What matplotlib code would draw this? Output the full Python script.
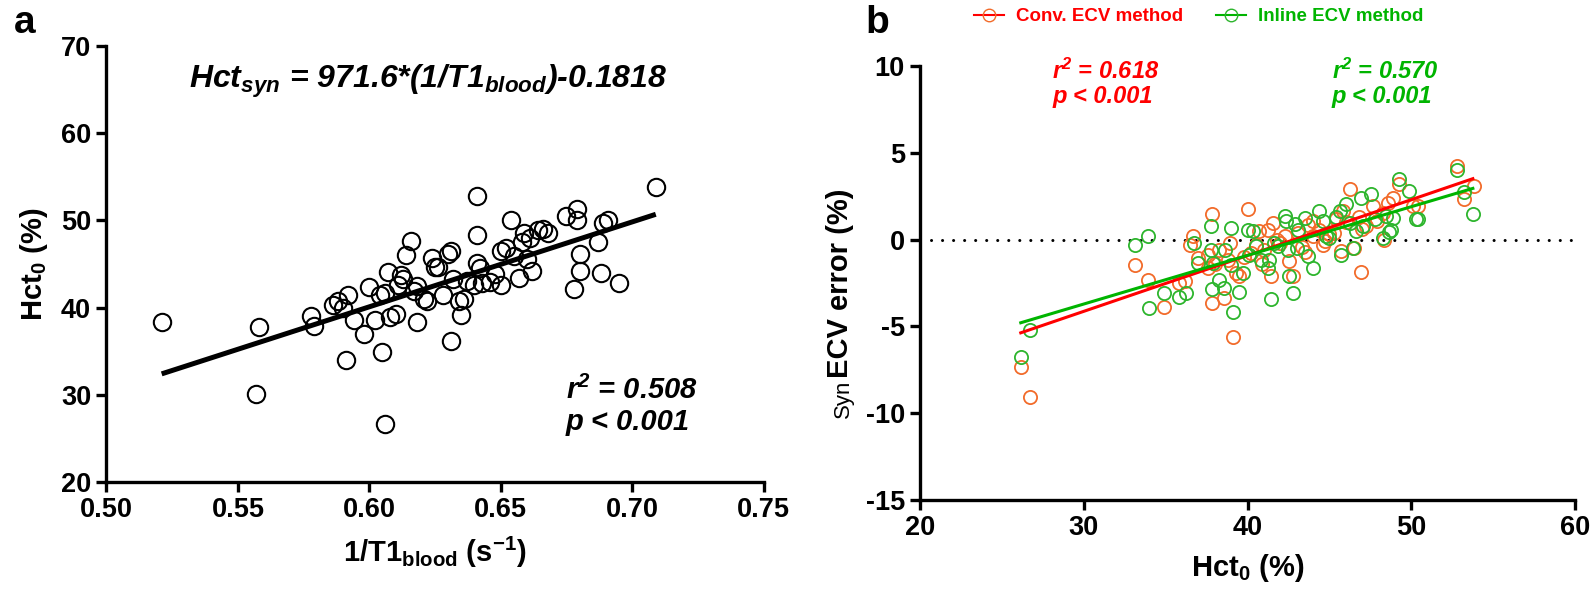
import numpy as np
import matplotlib.pyplot as plt
from matplotlib.lines import Line2D

plt.rcParams['font.family'] = ['Liberation Sans', 'DejaVu Sans']
plt.rcParams['font.weight'] = 'bold'
plt.rcParams['axes.labelweight'] = 'bold'
plt.rcParams['axes.unicode_minus'] = False
plt.rcParams['mathtext.fontset'] = 'custom'
plt.rcParams['mathtext.rm'] = 'Liberation Sans:bold'
plt.rcParams['mathtext.it'] = 'Liberation Sans:bold:italic'
plt.rcParams['mathtext.bf'] = 'Liberation Sans:bold'

# panel a: 1/T1 blood vs Hct0
t1_inv = [0.521, 0.558, 0.557, 0.578, 0.579, 0.586, 0.588, 0.590, 0.592, 0.591,
          0.594, 0.598, 0.600, 0.602, 0.604, 0.605, 0.606, 0.606, 0.607, 0.608,
          0.610, 0.611, 0.612, 0.613, 0.614, 0.616, 0.617, 0.618, 0.618, 0.621,
          0.622, 0.624, 0.625, 0.626, 0.628, 0.630, 0.631, 0.631, 0.632, 0.634,
          0.635, 0.636, 0.637, 0.640, 0.641, 0.641, 0.641, 0.642, 0.643, 0.646,
          0.648, 0.650, 0.650, 0.652, 0.654, 0.655, 0.657, 0.658, 0.659, 0.660,
          0.661, 0.662, 0.664, 0.666, 0.675, 0.679, 0.679, 0.680, 0.680, 0.678,
          0.687, 0.688, 0.689, 0.691, 0.695, 0.709, 0.668]
hct0 = [38.4, 37.8, 30.1, 39.0, 37.9, 40.3, 40.7, 40.0, 41.5, 34.0,
        38.6, 37.0, 42.4, 38.6, 41.5, 34.9, 41.7, 26.7, 44.1, 38.9,
        39.3, 42.6, 43.7, 43.3, 46.0, 47.6, 41.9, 38.4, 42.5, 41.0,
        40.7, 45.7, 44.6, 44.6, 41.5, 46.2, 46.5, 36.2, 43.3, 40.8,
        39.1, 41.0, 43.0, 42.6, 52.8, 48.3, 45.1, 44.5, 42.8, 42.9,
        43.8, 46.5, 42.6, 46.8, 50.0, 45.9, 43.4, 47.5, 48.5, 45.6,
        48.0, 44.2, 48.9, 49.0, 50.5, 51.3, 50.0, 46.2, 44.2, 42.1,
        47.5, 44.0, 49.7, 50.0, 42.8, 53.8, 48.5]
fit_a_x = [0.521, 0.709]
fit_a_y = [32.4, 50.7]

# panel b: Hct0 vs synthetic ECV error
conv_x = [26.15, 26.72, 33.13, 33.95, 34.92, 35.84, 36.19, 36.69, 36.96, 37.81,
          37.81, 37.57, 38.28, 38.59, 38.79, 39.1, 39.5, 40.0, 40.5, 40.7,
          41.24, 41.44, 41.54, 42.56, 42.76, 43.07, 43.68, 43.99, 44.39, 44.7,
          45.41, 45.72, 45.82, 46.23, 46.53, 46.94, 47.24, 47.65, 48.26, 48.57,
          48.87, 49.28, 50.1, 50.4, 48.36, 52.8, 53.82, 53.2, 37.6, 39.3,
          40.2, 41.0, 42.0, 43.3, 44.0, 45.0, 46.0, 47.0, 36.5, 38.0,
          39.8, 41.8, 43.5, 45.3, 38.9, 40.9, 42.3, 44.6, 46.8, 47.9]
conv_y = [-7.33, -9.07, -1.48, -2.35, -3.86, -2.51, -2.41, 0.23, -1.06, 1.45,
          -3.66, -1.64, -0.58, -3.37, -1.16, -5.59, -2.08, 1.78, -0.29, 0.48,
          0.58, -2.08, 0.97, -1.25, -2.12, 0.39, 0.87, 1.06, 0.58, -0.1,
          1.16, -0.67, 1.64, 2.93, -0.48, -1.89, 0.77, 1.93, 1.54, 2.12,
          2.41, 3.18, 1.93, 1.93, 0.0, 4.25, 3.09, 2.36, -0.9, -1.9,
          -0.8, -0.6, -0.2, -0.4, 0.2, 0.3, 1.0, 0.6, -0.3, -1.4,
          -1.0, 0.0, -0.7, 0.4, -0.2, -1.4, 0.2, -0.3, 1.3, 1.1]
inline_x = [26.15, 26.72, 33.13, 33.9, 34.0, 34.92, 35.84, 36.25, 36.76, 36.96,
            37.77, 37.77, 37.88, 37.84, 38.28, 38.59, 39.0, 39.0, 39.1, 39.5,
            40.0, 40.32, 40.52, 40.83, 41.24, 41.34, 41.44, 41.85, 42.26, 42.36,
            42.46, 42.56, 42.76, 43.07, 43.48, 43.68, 43.99, 44.39, 44.6, 45.0,
            45.62, 45.72, 46.02, 46.23, 46.43, 46.94, 47.04, 47.55, 47.76, 48.26,
            48.47, 48.77, 48.87, 49.28, 49.89, 50.3, 50.4, 48.66, 52.8, 53.76,
            53.2, 38.6, 40.1, 41.6, 43.0, 44.8, 46.6, 39.7, 42.9, 45.4]
inline_y = [-6.76, -5.21, -0.29, 0.19, -3.95, -3.05, -3.28, -3.05, -0.19, -1.35,
            0.81, -0.58, -1.35, -2.85, -2.31, -2.8, 0.68, -1.45, -4.15, -2.99,
            0.58, 0.48, -0.38, -1.16, -1.64, -1.16, -3.43, -0.38, 1.35, 1.06,
            -0.58, -2.08, -3.09, 0.58, 1.26, -0.96, -1.64, 1.64, 1.06, 0.1,
            1.64, -0.87, 2.03, 0.97, -0.48, 2.41, 0.77, 2.6, 1.16, 0.1,
            1.35, 0.58, 1.26, 3.51, 2.8, 1.16, 1.2, 0.43, 4.02, 1.45,
            2.74, -0.6, -0.9, -0.2, -0.5, 0.2, 0.5, -1.9, 0.9, 1.3]
fit_conv_x = [26.15, 53.76]
fit_conv_y = [-5.37, 3.51]
fit_inline_x = [26.15, 53.76]
fit_inline_y = [-4.79, 2.95]

orange = '#F26B2A'
green_pt = '#2DB52D'
red = '#FF0000'
green = '#00B400'

fig = plt.figure(figsize=(15.94, 5.92), dpi=100)
ax1 = fig.add_axes([0.0668, 0.1858, 0.4122, 0.7365])
ax2 = fig.add_axes([0.5772, 0.1554, 0.4109, 0.7331])

for ax in (ax1, ax2):
    for s in ('top', 'right'):
        ax.spines[s].set_visible(False)
    for s in ('left', 'bottom'):
        ax.spines[s].set_linewidth(2.4)
    ax.tick_params(width=2.4, length=7, labelsize=19.5, pad=4)
    for lab in ax.get_xticklabels() + ax.get_yticklabels():
        lab.set_fontweight('bold')

# panel a
ax1.plot(t1_inv, hct0, 'o', mfc='none', mec='black', mew=1.5, ms=12.5, clip_on=False)
ax1.plot(fit_a_x, fit_a_y, color='black', lw=3.6, solid_capstyle='butt')
ax1.set_xlim(0.50, 0.75)
ax1.set_ylim(20, 70)
ax1.set_xticks([0.50, 0.55, 0.60, 0.65, 0.70, 0.75])
ax1.set_xticklabels(['0.50', '0.55', '0.60', '0.65', '0.70', '0.75'])
ax1.set_yticks([20, 30, 40, 50, 60, 70])
ax1.set_xlabel(r'1/T1$_{\mathregular{blood}}$ (s$^{\mathregular{-1}}$)', fontsize=21, labelpad=8)
ax1.set_ylabel(r'Hct$_{\mathregular{0}}$ (%)', fontsize=21, labelpad=8)
fig.text(0.2686, 0.863, r'Hct$_{\mathregular{syn}}$ = 971.6*(1/T1$_{\mathregular{blood}}$)-0.1818',
         ha='center', va='center', fontsize=23, style='italic')
fig.text(0.355, 0.314, r'r$^{\mathregular{2}}$ = 0.508' + '\n' + 'p < 0.001',
         fontsize=21, style='italic', linespacing=1.15, va='center')
fig.text(0.009, 0.945, 'a', fontsize=28, fontweight='bold')

# panel b
ax2.axhline(0, color='black', lw=2.2, ls=(0, (0.01, 3.6)), dash_capstyle='round')
ax2.plot(conv_x, conv_y, 'o', mfc='none', mec=orange, mew=1.3, ms=9.5, clip_on=False)
ax2.plot(inline_x, inline_y, 'o', mfc='none', mec=green_pt, mew=1.3, ms=9.5, clip_on=False)
ax2.plot(fit_conv_x, fit_conv_y, color=red, lw=2.2)
ax2.plot(fit_inline_x, fit_inline_y, color=green, lw=2.2)
ax2.set_xlim(20, 60)
ax2.set_ylim(-15, 10)
ax2.set_xticks([20, 30, 40, 50, 60])
ax2.set_yticks([-15, -10, -5, 0, 5, 10])
ax2.set_xlabel(r'Hct$_{\mathregular{0}}$ (%)', fontsize=21, labelpad=8)
ax2.set_ylabel('ECV error (%)', fontsize=21, labelpad=8)
fig.canvas.draw()
yl = ax2.yaxis.label.get_window_extent()
inv = fig.transFigure.inverted()
x0, y0 = inv.transform((yl.x1, yl.y0))
fig.text(x0, y0 - 0.003, 'Syn', rotation=90, fontsize=16, fontweight='normal',
         ha='right', va='top')

fig.text(0.66, 0.859, r'r$^{\mathregular{2}}$ = 0.618' + '\n' + 'p < 0.001',
         color=red, fontsize=17, style='italic', linespacing=1.1, va='center')
fig.text(0.8355, 0.859, r'r$^{\mathregular{2}}$ = 0.570' + '\n' + 'p < 0.001',
         color=green, fontsize=17, style='italic', linespacing=1.1, va='center')
fig.text(0.543, 0.945, 'b', fontsize=28, fontweight='bold')

handles = [Line2D([], [], color=red, lw=1.5, marker='o', mfc='none', mec=orange, ms=9),
           Line2D([], [], color=green, lw=1.5, marker='o', mfc='none', mec=green_pt, ms=9)]
leg = fig.legend(handles, ['Conv. ECV method', 'Inline ECV method'], loc='upper center',
                 bbox_to_anchor=(0.752, 1.015), ncol=2, frameon=False, fontsize=13.5,
                 handlelength=1.6, columnspacing=1.8, handletextpad=0.6)
for txt, c in zip(leg.get_texts(), [red, green]):
    txt.set_color(c)
    txt.set_fontweight('bold')

fig.savefig('out.png', dpi=100)
